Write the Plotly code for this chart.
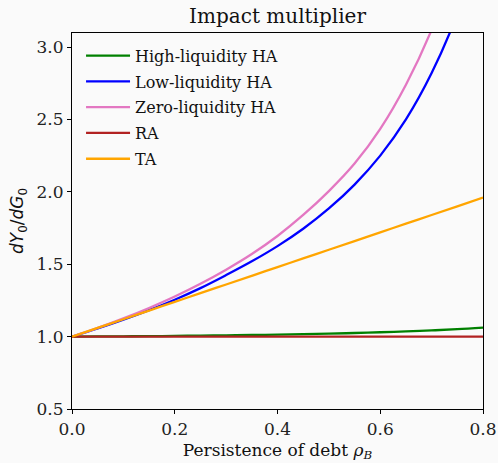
import plotly.graph_objects as go

rho = [0.0, 0.05, 0.1, 0.15, 0.2, 0.25, 0.3, 0.35, 0.4, 0.45, 0.5, 0.55, 0.6, 0.65, 0.7, 0.75, 0.8]
high_liq = [1.0, 1.001, 1.002, 1.003, 1.005, 1.007, 1.009, 1.011, 1.014, 1.017, 1.020, 1.025, 1.030, 1.036, 1.043, 1.051, 1.062]
low_liq = [1.0, 1.056, 1.117, 1.183, 1.255, 1.335, 1.425, 1.52, 1.625, 1.745, 1.885, 2.05, 2.25, 2.50, 2.82, 3.23, 3.78]
zero_liq = [1.0, 1.060, 1.126, 1.198, 1.277, 1.365, 1.462, 1.570, 1.695, 1.84, 2.005, 2.195, 2.435, 2.74, 3.12, 3.62, 4.28]
ra = [1.0] * 17
ta = [1.0, 1.06, 1.12, 1.18, 1.24, 1.30, 1.36, 1.42, 1.48, 1.54, 1.60, 1.66, 1.72, 1.78, 1.84, 1.90, 1.96]

series = [
    ("High-liquidity HA", high_liq, "#008000"),
    ("Low-liquidity HA", low_liq, "#0000ff"),
    ("Zero-liquidity HA", zero_liq, "#e377c2"),
    ("RA", ra, "#b22222"),
    ("TA", ta, "#ffa500"),
]

FONT = "DejaVu Serif"
fig = go.Figure()
for i, (name, ys, col) in enumerate(series):
    fig.add_trace(go.Scatter(x=rho, y=ys, mode="lines", name=name,
                             line=dict(color=col, width=2.3, shape="spline", smoothing=1.0),
                             legendgroup=f"g{i}"))

axis_common = dict(showgrid=False, zeroline=False, showline=True, linecolor="black",
                   linewidth=1.2, mirror=True, ticks="outside", ticklen=4, automargin=False,
                   tickcolor="black", tickfont=dict(family=FONT, size=17, color="#222"))

fig.update_layout(
    width=498, height=463,
    margin=dict(l=72, r=15, t=33, b=54),
    paper_bgcolor="#fafafa", plot_bgcolor="#fafafa",
    title=dict(text="Impact multiplier", x=0.5573, xanchor="center", y=0.965, yanchor="middle",
               font=dict(family=FONT, size=20, color="#111")),
    xaxis=dict(range=[0, 0.8], tickvals=[0, 0.2, 0.4, 0.6, 0.8], ticktext=["0.0", "0.2", "0.4", "0.6", "0.8"],
               title=dict(text="Persistence of debt <i>ρ</i><sub><i>B</i></sub>", standoff=6,
                          font=dict(family=FONT, size=17, color="#111")), **axis_common),
    yaxis=dict(range=[0.5, 3.097], tickvals=[0.5, 1.0, 1.5, 2.0, 2.5, 3.0],
               ticktext=["0.5", "1.0", "1.5", "2.0", "2.5", "3.0"],
               title=dict(text="<i>dY</i><sub>0</sub>/<i>dG</i><sub>0</sub>", standoff=8,
                          font=dict(family="DejaVu Sans", size=17, color="#111")), **axis_common),
    legend=dict(x=0.022, y=0.985, xanchor="left", yanchor="top", bgcolor="rgba(0,0,0,0)",
                font=dict(family=FONT, size=16, color="#111"), tracegroupgap=2, itemwidth=44),
    showlegend=True,
)

fig.write_html("out.html")
